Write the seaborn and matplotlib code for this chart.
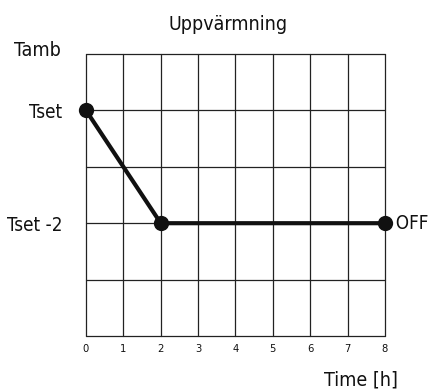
import matplotlib
matplotlib.use("Agg")
import matplotlib.pyplot as plt
import seaborn as sns
import pandas as pd
from matplotlib import font_manager
from matplotlib.font_manager import FontProperties

# Heating profile: temperature relative to the set point over time
time_h = [0, 2, 8]
temp_offset = [0, -2, -2]
x_ticks = [0, 1, 2, 3, 4, 5, 6, 7, 8]
y_ticks = [0, -2]
y_tick_labels = ["Tset", "Tset -2"]

sns.set_theme(style="white")


def narrow_font_file():
    files = [f.fname for f in font_manager.fontManager.ttflist]
    for key in ("LiberationSansNarrow-Regular", "DejaVuSansCondensed.ttf",
                "Narrow", "Condensed"):
        for fn in files:
            if key in fn and "Bold" not in fn and "Oblique" not in fn and "Italic" not in fn:
                return fn
    return None


fname = narrow_font_file()


def fp(size):
    if fname:
        return FontProperties(fname=fname, size=size)
    return FontProperties(family="DejaVu Sans", size=size)


df = pd.DataFrame({"time": time_h, "temp": temp_offset})

fig = plt.figure(figsize=(4.31, 3.90), dpi=100)
ax = fig.add_axes([86 / 431, 1 - 336 / 390, 299 / 431, 282 / 390])

sns.lineplot(data=df, x="time", y="temp", ax=ax, color="#111111", linewidth=3.0,
             marker="o", markersize=11, markeredgewidth=0, zorder=5, clip_on=False)

ax.set_xlim(0, 8)
ax.set_ylim(-4, 1)
ax.set_xticks(x_ticks)
ax.set_xticklabels([str(v) for v in x_ticks])
ax.set_yticks(y_ticks)
ax.set_yticklabels(y_tick_labels)
for lab in ax.get_xticklabels():
    lab.set_fontproperties(fp(8))
for lab in ax.get_yticklabels():
    lab.set_fontproperties(fp(13.5))
ax.tick_params(axis="x", length=0, pad=6, colors="#111111")
ax.tick_params(axis="y", length=0, pad=17, colors="#111111")

# Grid: one line per hour, one per degree
for xv in x_ticks:
    ax.axvline(xv, color="#222222", linewidth=0.9, zorder=1, clip_on=False)
for yv in [1, 0, -1, -2, -3, -4]:
    ax.axhline(yv, color="#222222", linewidth=0.9, zorder=1, clip_on=False)
for s in ax.spines.values():
    s.set_visible(False)

ax.set_xlabel("")
ax.set_ylabel("")

fig.text(228 / 431, 1 - 25 / 390, "Uppvärmning", ha="center", va="center",
         fontproperties=fp(14), color="#111111")
fig.text(61 / 431, 1 - 50 / 390, "Tamb", ha="right", va="center",
         fontproperties=fp(14), color="#111111")
ax.text(8, -2, "  OFF", ha="left", va="center", fontproperties=fp(13.5), color="#111111")
fig.text(398 / 431, 1 - 380 / 390, "Time [h]", ha="right", va="center",
         fontproperties=fp(14), color="#111111")

fig.savefig("out.png", dpi=100)
